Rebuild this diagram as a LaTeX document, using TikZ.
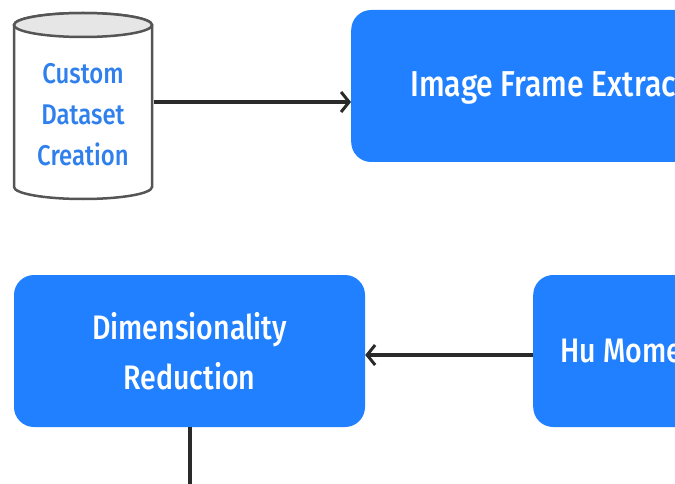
\documentclass[tikz,border=0pt]{standalone}
\usepackage{fontspec}
\setmainfont[FakeStretch=0.84]{Fira Sans Medium}
\usetikzlibrary{arrows.meta}
\definecolor{boxblue}{HTML}{2080FF}
\definecolor{dbtext}{HTML}{2F80ED}
\definecolor{dbline}{HTML}{555555}
\definecolor{dbtop}{HTML}{E6E6E6}
\definecolor{wire}{HTML}{2A2A2A}
\tikzset{
  procbox/.style={shape=rectangle, fill=boxblue, rounded corners=20pt,
    minimum height=152pt, text=white, align=center,
    font=\fontsize{34}{50}\selectfont},
  dblabel/.style={align=center, text=dbtext, minimum width=141pt, inner sep=0pt,
    font=\fontsize{28.5}{41}\selectfont},
  wireline/.style={draw=wire, line width=4pt},
  flow/.style={wireline, -{Straight Barb[length=8pt,width=20pt,line width=3pt]}},
}
\begin{document}
\begin{tikzpicture}[x=1pt,y=1pt]
\useasboundingbox (0,0) rectangle (675,483);
\clip (0,0) rectangle (675,483);
% database cylinder
\path[fill=white, draw=dbline, line width=2.5pt]
  (14,458) -- (14,296) arc[start angle=180, end angle=360, x radius=69, y radius=12]
  -- (152,458) arc[start angle=0, end angle=180, x radius=69, y radius=12] -- cycle;
\path[fill=dbtop, draw=dbline, line width=2.5pt] (83,458) ellipse[x radius=69, y radius=12];
\node[dblabel] (db) at (83,368) {Custom\\Dataset\\Creation};
% processing steps
\node[procbox, anchor=west, inner xsep=59pt, font=\fontsize{36}{50}\selectfont] (frames) at (351,397) {Image Frame Extraction};
\node[procbox, minimum width=351pt] (dimred) at (189.5,132) {Dimensionality\\Reduction};
\node[procbox, anchor=west, inner xsep=27pt] (hu) at (533,132) {Hu Moments};
\coordinate (down) at (189.5,-10);
% connectors
\draw[flow] ([yshift=13pt]db.east) -- ([yshift=13pt]db.east -| frames.west);
\draw[flow] ([yshift=-4pt]hu.west) -- ([yshift=-4pt]dimred.east);
\draw[wireline] (dimred.south) -- (down);
\end{tikzpicture}
\end{document}
